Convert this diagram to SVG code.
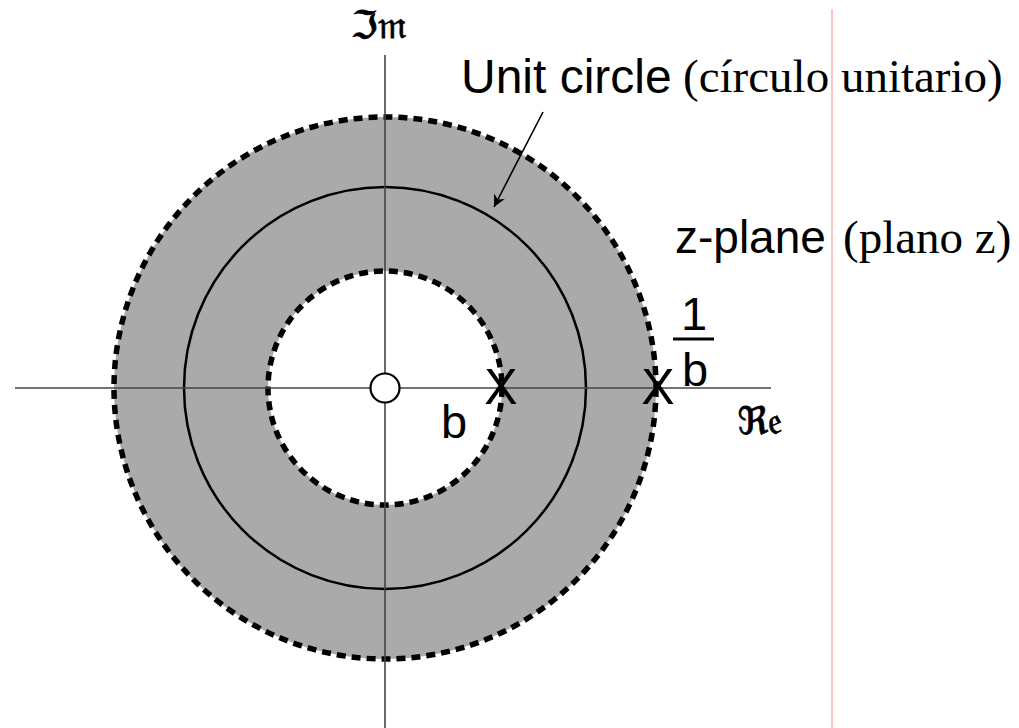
<svg xmlns="http://www.w3.org/2000/svg" width="1019" height="728" viewBox="0 0 1019 728">
<style>
.sans{font-family:"Liberation Sans",Arial,sans-serif;fill:#000}
.serif{font-family:"Liberation Serif","Times New Roman",serif;fill:#000}
.axis{stroke:#444;stroke-width:1.6;fill:none}
.dash{stroke:#000;stroke-width:5.5;stroke-dasharray:9 6}
.frak{font-family:"DejaVu Serif","DejaVu Sans",serif;fill:#000;stroke:#000;stroke-width:0.8}
</style>
<defs>
<marker id="ah" viewBox="0 0 10 10" refX="10" refY="5" markerWidth="18" markerHeight="12" markerUnits="userSpaceOnUse" orient="auto">
<path d="M0,0 L10,5 L0,10 L3,5 Z" fill="#000"/>
</marker>
</defs>
<rect width="1019" height="728" fill="#fff"/>
<line x1="832" y1="9" x2="832" y2="728" stroke="#f4a8a8" stroke-width="1.3"/>
<g id="region">
<circle cx="385" cy="388" r="271" fill="#aaaaaa" class="dash"/>
<circle cx="385" cy="388" r="117" fill="#fff" class="dash"/>
</g>
<g id="unit-circle">
<circle cx="385" cy="388" r="201" fill="none" stroke="#000" stroke-width="2.5"/>
</g>
<g id="axes">
<line class="axis" x1="15" y1="388" x2="771" y2="388"/>
<line class="axis" x1="385" y1="55" x2="385" y2="728"/>
</g>
<g id="zero">
<circle cx="385" cy="388" r="14.5" fill="#fff" stroke="#000" stroke-width="2.2"/>
</g>
<g id="pole-b">
<text class="sans" x="501" y="404" font-size="50" text-anchor="middle">X</text>
<text class="sans" x="454" y="438" font-size="47" text-anchor="middle">b</text>
</g>
<g id="pole-1b">
<text class="sans" x="658" y="404" font-size="50" text-anchor="middle">X</text>
<text class="sans" x="694" y="330" font-size="47" text-anchor="middle">1</text>
<line x1="673" y1="339" x2="714" y2="339" stroke="#000" stroke-width="3"/>
<text class="sans" x="695" y="386" font-size="47" text-anchor="middle">b</text>
</g>
<g id="label-im">
<text class="frak" x="379" y="38" font-size="38" text-anchor="middle">ℑ𝔪</text>
</g>
<g id="label-re">
<text class="frak" x="760" y="434" font-size="38" text-anchor="middle">ℜ𝔢</text>
</g>
<g id="label-unit">
<text class="sans" x="461" y="93" font-size="48">Unit circle</text>
<text class="serif" x="683" y="92" font-size="47">(círculo unitario)</text>
</g>
<g id="label-zplane">
<text class="sans" x="675" y="253" font-size="46">z-plane</text>
<text class="serif" x="843" y="253" font-size="47">(plano z)</text>
</g>
<g id="connectors">
<line x1="543" y1="112" x2="494" y2="207" stroke="#000" stroke-width="1.6" marker-end="url(#ah)"/>
</g>
</svg>
